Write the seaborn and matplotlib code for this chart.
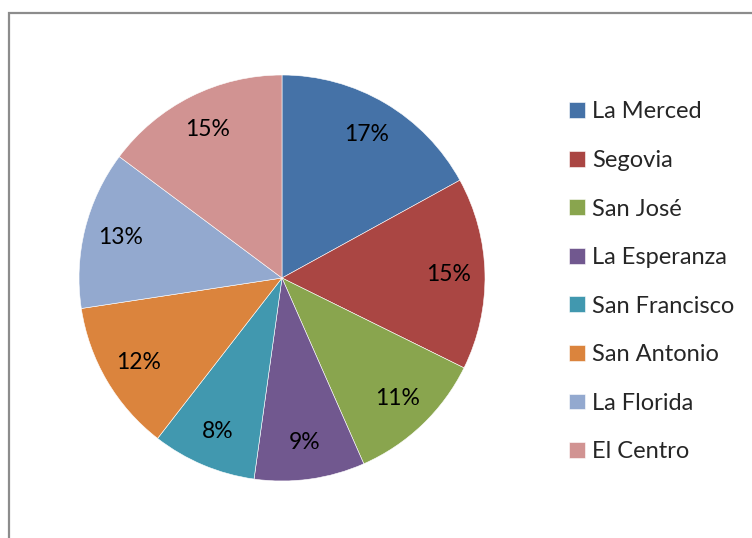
import matplotlib
matplotlib.use("Agg")
import matplotlib.pyplot as plt
import seaborn as sns
from matplotlib.patches import Rectangle

# data (share of each barrio, %)
barrios = ["La Merced", "Segovia", "San José", "La Esperanza",
           "San Francisco", "San Antonio", "La Florida", "El Centro"]
shares = [17.0, 15.3, 11.1, 8.8, 8.3, 12.1, 12.6, 14.8]
colors = ["#4572A7", "#AA4643", "#89A54E", "#71588F",
          "#4198AF", "#DB843D", "#93A9CF", "#D19392"]

sns.set_theme(style="white")
plt.rcParams['font.family'] = ['Lato', 'DejaVu Sans']

W, H = 752, 538
fig = plt.figure(figsize=(W / 100, H / 100), dpi=100)

# outer chart frame (cut at right and bottom edges)
fig.patches.append(Rectangle((8.5 / W, -0.1), 1.2, (H - 12.7) / H + 0.1,
                             transform=fig.transFigure, fill=False,
                             edgecolor="#8c8c8c", linewidth=1.6))

cx, cy, r = 282, 278, 203
ax = fig.add_axes([(cx - r) / W, (H - cy - r) / H, 2 * r / W, 2 * r / H])
wedges, _, autotexts = ax.pie(shares, colors=colors, startangle=90,
                              counterclock=False, autopct='%.0f%%',
                              pctdistance=0.82,
                              wedgeprops=dict(edgecolor="white", linewidth=0.4),
                              textprops=dict(fontsize=16.5, color="black"))
ax.set_xlim(-1, 1)
ax.set_ylim(-1, 1)
ax.set_aspect("equal")
ax.axis("off")

fig.legend(wedges, barrios, loc="upper left",
           bbox_to_anchor=(560 / W, 1 - 92 / H), frameon=False,
           fontsize=17, handlelength=0.65, handleheight=0.65,
           handletextpad=0.3, labelspacing=1.167, borderaxespad=0)

fig.savefig("out.png", dpi=100)
